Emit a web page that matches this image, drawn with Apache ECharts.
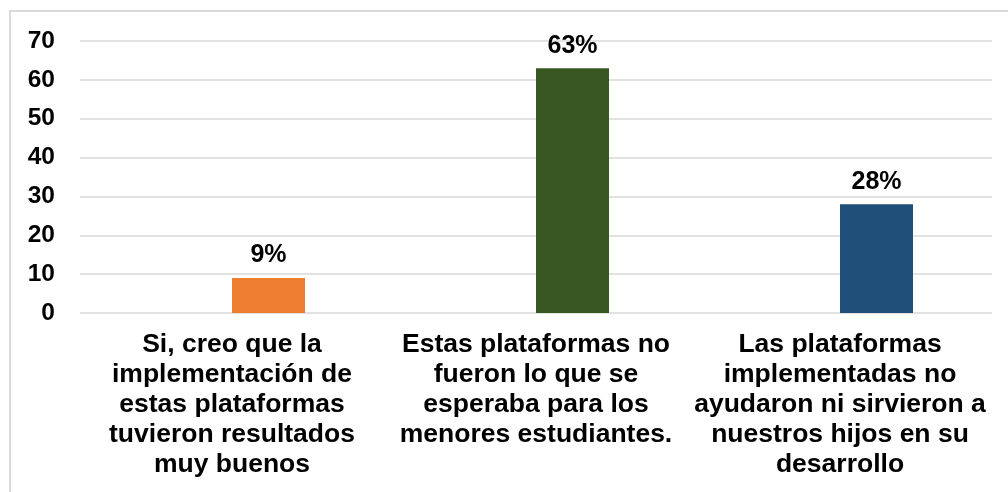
<!DOCTYPE html>
<html>
<head>
<meta charset="utf-8">
<script src="https://cdn.jsdelivr.net/npm/echarts@6/dist/echarts.min.js"></script>
<style>
html, body { margin: 0; padding: 0; background: #ffffff; }
#chart { width: 1008px; height: 492px; }
</style>
</head>
<body>
<div id="chart"></div>
<script>
// categorias (con saltos de linea como en el original)
var categorias = [
    "Si, creo que la\nimplementación de\nestas plataformas\ntuvieron resultados\nmuy buenos",
    "Estas plataformas no\nfueron lo que se\nesperaba para los\nmenores estudiantes.",
    "Las plataformas\nimplementadas no\nayudaron ni sirvieron a\nnuestros hijos en su\ndesarrollo"
];
var porcentajes = [9, 63, 28];
var colores = ["#ED7D31", "#385723", "#1F4E79"];
var yTicks = { min: 0, max: 70, interval: 10 };

var chart = echarts.init(document.getElementById("chart"));

var option = {
    animation: false,
    backgroundColor: "#ffffff",
    textStyle: { fontFamily: "Liberation Sans, Arial, sans-serif" },
    grid: { left: 80, right: 16, top: 41, bottom: 179, containLabel: false },
    // marco gris del grafico
    graphic: [{
        type: "rect",
        shape: { x: 10, y: 11, width: 1200, height: 600 },
        style: { fill: "none", stroke: "#d9d9d9", lineWidth: 2 },
        silent: true
    }],
    xAxis: {
        type: "category",
        data: categorias,
        axisLine: { show: false },
        axisTick: { show: false },
        axisLabel: {
            interval: 0,
            margin: 17,
            color: "#000000",
            fontSize: 26.5,
            fontWeight: "bold",
            lineHeight: 30,
            align: "center"
        }
    },
    yAxis: {
        type: "value",
        min: yTicks.min,
        max: yTicks.max,
        interval: yTicks.interval,
        axisLine: { show: false },
        axisTick: { show: false },
        axisLabel: { color: "#000000", fontSize: 24.5, fontWeight: "bold", margin: 25 },
        splitLine: { lineStyle: { color: "#d9d9d9", width: 1.5 } }
    },
    series: [
        // serie vacia: desplaza las barras a la derecha como en el original
        {
            type: "bar",
            data: porcentajes.map(function () { return null; }),
            barWidth: 73,
            barGap: "0%",
            silent: true
        },
        {
            type: "bar",
            data: porcentajes.map(function (v, i) {
                return { value: v, itemStyle: { color: colores[i] } };
            }),
            barWidth: 73,
            barGap: "0%",
            label: {
                show: true,
                position: "top",
                distance: 10,
                formatter: "{c}%",
                color: "#000000",
                fontSize: 25,
                fontWeight: "bold"
            }
        }
    ]
};
chart.setOption(option);
</script>
</body>
</html>
